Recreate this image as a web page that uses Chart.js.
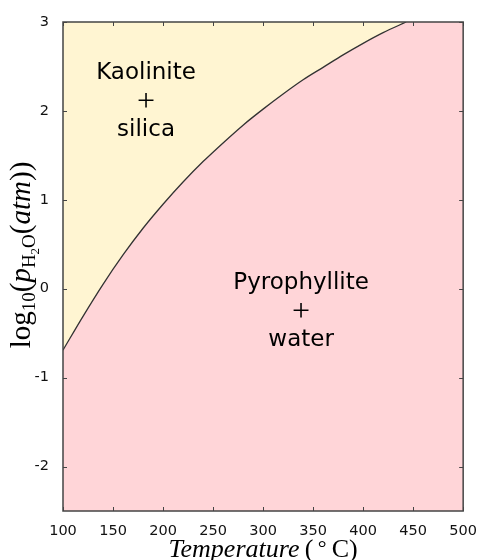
<!DOCTYPE html>
<html>
<head>
<meta charset="utf-8">
<script src="https://cdn.jsdelivr.net/npm/chart.js@4.4.0/dist/chart.umd.min.js"></script>
<style>
html, body { margin: 0; padding: 0; background: #fff; }
</style>
</head>
<body>
<canvas id="chart" width="481" height="560"></canvas>
<script>
// boundary curve
var temperature = [100, 120, 140, 160, 180, 200, 220, 240, 260, 280, 300, 320, 340, 360, 380, 400, 420, 443]
var logPressure = [-0.69, -0.31, 0.05, 0.38, 0.68, 0.95, 1.20, 1.43, 1.64, 1.84, 2.02, 2.19, 2.35, 2.49, 2.63, 2.76, 2.88, 3.00]

var xTicks = [100, 150, 200, 250, 300, 350, 400, 450, 500]
var yTicks = [-2, -1, 0, 1, 2, 3]

var regionNames = [["Kaolinite", "+", "silica"], ["Pyrophyllite", "+", "water"]]
var regionT = [183, 338]
var regionP = [2.1, -0.26]

var yellow = 'rgb(255, 245, 210)'
var pink = 'rgb(255, 213, 216)'
var frameColor = '#444'

var points = []
for (var i = 0; i < temperature.length; i++) {
    points.push({ x: temperature[i], y: logPressure[i] })
}

// draws a run of text pieces with mixed fonts, centred on (cx, cy)
function drawPieces(ctx, pieces, cx, cy, angle) {
    ctx.save()
    ctx.translate(cx, cy)
    ctx.rotate(angle)
    var total = 0
    pieces.forEach(function (p) {
        ctx.font = p.f
        p.w = ctx.measureText(p.t).width
        total += p.w
    })
    var x = -total / 2
    ctx.fillStyle = '#000'
    ctx.textBaseline = 'alphabetic'
    ctx.textAlign = 'left'
    pieces.forEach(function (p) {
        ctx.font = p.f
        ctx.fillText(p.t, x, p.dy || 0)
        x += p.w
    })
    ctx.restore()
}

var framePlugin = {
    id: 'frame',
    beforeDatasetsDraw: function (chart) {
        var a = chart.chartArea
        var ctx = chart.ctx
        ctx.save()
        ctx.fillStyle = pink
        ctx.fillRect(a.left, a.top, a.right - a.left, a.bottom - a.top)
        ctx.restore()
    },
    afterDatasetsDraw: function (chart) {
        var a = chart.chartArea
        var ctx = chart.ctx
        var xs = chart.scales.x
        var ys = chart.scales.y
        ctx.save()
        ctx.strokeStyle = frameColor
        ctx.lineWidth = 1
        ctx.beginPath()
        xTicks.forEach(function (t) {
            var px = Math.round(xs.getPixelForValue(t)) + 0.5
            ctx.moveTo(px, a.bottom); ctx.lineTo(px, a.bottom - 4)
            ctx.moveTo(px, a.top); ctx.lineTo(px, a.top + 4)
        })
        yTicks.forEach(function (t) {
            var py = Math.round(ys.getPixelForValue(t)) + 0.5
            ctx.moveTo(a.left, py); ctx.lineTo(a.left + 4, py)
            ctx.moveTo(a.right, py); ctx.lineTo(a.right - 4, py)
        })
        ctx.stroke()
        ctx.lineWidth = 1.5
        ctx.strokeRect(a.left, a.top, a.right - a.left, a.bottom - a.top)

        // region labels
        ctx.fillStyle = '#000'
        ctx.textAlign = 'center'
        ctx.textBaseline = 'middle'
        for (var i = 0; i < regionNames.length; i++) {
            var cx = xs.getPixelForValue(regionT[i])
            var cy = ys.getPixelForValue(regionP[i])
            var lines = regionNames[i]
            for (var j = 0; j < lines.length; j++) {
                if (lines[j] == '+') ctx.font = '32px "Liberation Serif"'
                else ctx.font = '23px "DejaVu Sans"'
                ctx.fillText(lines[j], cx, cy + (j - 1) * 28.5 + (lines[j] == '+' ? 1 : 0))
            }
        }
        ctx.restore()

        // axis titles
        var serif = '"Liberation Serif"'
        drawPieces(ctx, [
            { t: 'Temperature', f: 'italic 26px ' + serif },
            { t: '\u2009(', f: '26px ' + serif },
            { t: '\u2009\u00b0', f: '22px ' + serif, dy: -2 },
            { t: '\u2009C)', f: '26px ' + serif }
        ], (a.left + a.right) / 2, 557, 0)

        drawPieces(ctx, [
            { t: 'log', f: '29px ' + serif },
            { t: '10', f: '19px ' + serif, dy: 5 },
            { t: '(', f: '29px ' + serif },
            { t: 'p', f: 'italic 29px ' + serif },
            { t: 'H', f: '19px ' + serif, dy: 5 },
            { t: '2', f: '13px ' + serif, dy: 9 },
            { t: 'O', f: '19px ' + serif, dy: 5 },
            { t: '(', f: '29px ' + serif },
            { t: 'atm', f: 'italic 29px ' + serif },
            { t: '))', f: '29px ' + serif }
        ], 30, 255, -Math.PI / 2)
    }
}

var ctx = document.getElementById('chart').getContext('2d')
var myChart = new Chart(ctx, {
    type: 'line',
    data: {
        datasets: [{
            data: points,
            borderColor: '#333',
            borderWidth: 1.3,
            backgroundColor: yellow,
            fill: 'end',
            pointRadius: 0,
            cubicInterpolationMode: 'monotone'
        }]
    },
    options: {
        responsive: false,
        animation: false,
        devicePixelRatio: 1,
        layout: { padding: { top: 22, right: 15, left: 0, bottom: 0 } },
        plugins: { legend: { display: false }, tooltip: { enabled: false } },
        scales: {
            x: {
                type: 'linear',
                min: 100,
                max: 500,
                grid: { display: false },
                border: { display: false },
                afterBuildTicks: function (scale) {
                    scale.ticks = xTicks.map(function (v) { return { value: v } })
                },
                afterFit: function (scale) { scale.height = 49 },
                ticks: {
                    color: '#111',
                    padding: 4,
                    maxRotation: 0,
                    font: { family: 'DejaVu Sans', size: 14.5 }
                }
            },
            y: {
                type: 'linear',
                min: -2.5,
                max: 3,
                grid: { display: false },
                border: { display: false },
                afterBuildTicks: function (scale) {
                    scale.ticks = yTicks.map(function (v) { return { value: v } })
                },
                afterFit: function (scale) { scale.width = 63 },
                ticks: {
                    color: '#111',
                    padding: 6,
                    font: { family: 'DejaVu Sans', size: 14.5 }
                }
            }
        }
    },
    plugins: [framePlugin]
})
</script>
</body>
</html>
